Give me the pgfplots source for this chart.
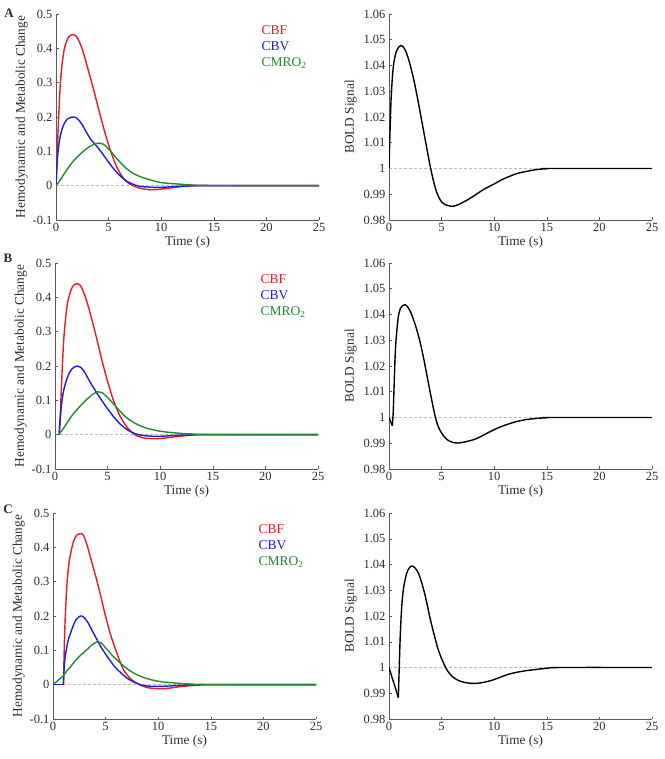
\documentclass[border=0pt]{standalone}
\usepackage{fontspec}
\setmainfont{Liberation Serif}
\usepackage{pgfplots}
\pgfplotsset{compat=1.18}
\definecolor{mred}{RGB}{228,28,36}
\definecolor{mblue}{RGB}{28,28,228}
\definecolor{mgreen}{RGB}{32,140,44}
\definecolor{axgray}{RGB}{90,90,90}
\definecolor{txtgray}{RGB}{45,45,45}
\pgfplotsset{
  base/.style={
    scale only axis, width=263pt, height=206pt, anchor=south west,
    axis x line=bottom, axis y line=left,
    axis line style={-, axgray, line width=0.6pt},
    tick align=inside, major tick length=2.5pt,
    tick style={axgray, line width=0.5pt},
    xmin=0, xmax=25, xtick={0,5,10,15,20,25},
    font=\fontsize{12.5}{14}\selectfont,
    tick label style={font=\fontsize{12.5}{14}\selectfont, text=txtgray},
    label style={font=\fontsize{13.3}{15}\selectfont, text=txtgray},
    /pgf/number format/assume math mode=true,
    xlabel={Time (s)},
    xlabel style={yshift=3pt},
  },
  leftax/.style={base,
    ymin=-0.1, ymax=0.5, ytick={-0.1,0,0.1,0.2,0.3,0.4,0.5},
    ylabel={Hemodynamic and Metabolic Change},
    ylabel style={yshift=-2pt},
    legend image code/.code={},
    legend cell align=left,
    legend style={draw=none, fill=none, at={(axis description cs:0.762,0.962)}, anchor=north west,
      font=\fontsize{13.5}{15}\selectfont, row sep=1.2pt},
  },
  rightax/.style={base,
    ymin=0.98, ymax=1.06, ytick={0.98,0.99,1,1.01,1.02,1.03,1.04,1.05,1.06},
    yticklabel style={/pgf/number format/fixed, /pgf/number format/precision=2},
    ylabel={BOLD Signal},
  },
  zline/.style={gray!55, densely dashed, line width=0.4pt},
  cv/.style={line width=1.4pt},
  sm/.style={line width=1.4pt, smooth, tension=0.55},
}
\begin{document}
\begin{tikzpicture}
\path[use as bounding box] (0pt,0pt) rectangle (664pt,759pt);
% ---------------- Row A ----------------
\begin{axis}[leftax, at={(56pt,539pt)}]
\addplot[zline, forget plot] coordinates {(0,0) (25,0)};
\addplot[sm, mred] coordinates {
(0,0) (0.1,0.08) (0.2,0.16) (0.3,0.23) (0.4,0.29) (0.5,0.33) (0.6,0.36) (0.8,0.40) (1.0,0.42) (1.2,0.433) (1.45,0.439) (1.65,0.44) (1.9,0.436) (2.2,0.421) (2.5,0.397) (2.8,0.366) (3.1,0.333) (3.4,0.30) (3.7,0.265) (4.0,0.229) (4.3,0.194) (4.6,0.16) (4.9,0.129) (5.2,0.10) (5.5,0.075) (5.8,0.053) (6.2,0.031) (6.6,0.015) (7.0,0.005) (7.3,0.0) (7.8,-0.006) (8.4,-0.010) (9.0,-0.012) (9.7,-0.011) (10.5,-0.008) (11.3,-0.005) (12.2,-0.002) (13.2,-0.0005) (14.5,0) (25,0)};
\addlegendentry[text=mred]{CBF}
\addplot[sm, mblue] coordinates {
(0,0) (0.1,0.06) (0.2,0.10) (0.35,0.135) (0.55,0.162) (0.8,0.182) (1.1,0.194) (1.4,0.199) (1.65,0.2) (1.9,0.198) (2.2,0.19) (2.5,0.177) (2.9,0.155) (3.3,0.135) (3.87,0.115) (4.3,0.098) (4.8,0.077) (5.3,0.056) (5.8,0.038) (6.3,0.023) (6.8,0.012) (7.4,0.003) (8.0,-0.002) (8.7,-0.004) (9.5,-0.005) (10.5,-0.004) (11.5,-0.002) (12.5,-0.001) (14,0) (25,0)};
\addlegendentry[text=mblue]{CBV}
\addplot[sm, mgreen] coordinates {
(0,0) (0.3,0.012) (0.6,0.026) (1.0,0.045) (1.5,0.066) (2.0,0.083) (2.6,0.1) (3.1,0.112) (3.6,0.12) (4.1,0.124) (4.5,0.121) (5.1,0.104) (5.6,0.085) (6.2,0.065) (6.7,0.05) (7.5,0.033) (8.6,0.02) (10,0.009) (11.5,0.005) (13,0.002) (15,0.0005) (25,0)};
\addlegendentry[text=mgreen]{CMRO\textsubscript{2}}
\end{axis}
\begin{axis}[rightax, at={(389pt,539pt)}]
\addplot[zline] coordinates {(0,1) (25,1)};
\addplot[sm, black] coordinates {
(0,1.0) (0.1,1.015) (0.2,1.027) (0.35,1.037) (0.5,1.042) (0.75,1.046) (1.15,1.0478) (1.5,1.0463) (1.8,1.0432) (2.1,1.0388) (2.4,1.0336) (2.7,1.0275) (3.0,1.021) (3.3,1.0143) (3.6,1.0077) (3.96,1.0) (4.3,0.994) (4.6,0.990) (5.0,0.987) (5.5,0.9857) (5.95,0.9853) (6.5,0.9858) (7.5,0.9879) (8.3,0.990) (9.1,0.9921) (10,0.994) (10.7,0.9956) (11.5,0.997) (12.3,0.9982) (13.9,0.9995) (15,0.9999) (16,1.0) (25,1.0)};
\end{axis}
% ---------------- Row B ----------------
\begin{axis}[leftax, at={(55pt,290pt)}]
\addplot[zline, forget plot] coordinates {(0,0) (25,0)};
\addplot[cv, mred, forget plot] coordinates {(0,0) (0.4,0)};
\addplot[sm, mred] coordinates {
(0.4,0) (0.5,0.06) (0.6,0.13) (0.7,0.2) (0.8,0.26) (0.9,0.305) (1.05,0.35) (1.2,0.385) (1.4,0.41) (1.65,0.43) (1.9,0.438) (2.13,0.44) (2.4,0.435) (2.65,0.42) (2.9,0.40) (3.2,0.37) (3.5,0.335) (3.8,0.30) (4.2,0.25) (4.6,0.20) (5.05,0.15) (5.55,0.10) (5.9,0.073) (6.25,0.05) (6.7,0.028) (7.1,0.013) (7.6,0.0) (8.2,-0.008) (8.9,-0.011) (9.6,-0.012) (10.4,-0.01) (11.2,-0.007) (12,-0.004) (13,-0.0015) (14.5,0) (25,0)};
\addlegendentry[text=mred]{CBF}
\addplot[cv, mblue, forget plot] coordinates {(0,0) (0.4,0)};
\addplot[sm, mblue] coordinates {
(0.4,0) (0.5,0.045) (0.63,0.09) (0.8,0.125) (1.05,0.155) (1.3,0.176) (1.6,0.191) (1.9,0.198) (2.13,0.2) (2.4,0.197) (2.7,0.187) (3.0,0.172) (3.3,0.155) (3.8,0.13) (4.3,0.106) (4.8,0.084) (5.3,0.063) (5.8,0.044) (6.3,0.028) (6.8,0.016) (7.3,0.007) (7.9,0.0) (8.6,-0.003) (9.5,-0.005) (10.5,-0.004) (11.5,-0.002) (13,-0.0005) (14.5,0) (25,0)};
\addlegendentry[text=mblue]{CBV}
\addplot[cv, mgreen, forget plot] coordinates {(0,0) (0.3,0)};
\addplot[sm, mgreen] coordinates {
(0.3,0) (0.5,0.006) (0.8,0.018) (1.2,0.037) (1.6,0.055) (2.1,0.073) (2.6,0.09) (3.1,0.105) (3.6,0.118) (4.1,0.125) (4.5,0.122) (5.1,0.105) (5.6,0.088) (6.2,0.068) (6.7,0.052) (7.5,0.035) (8.6,0.02) (10,0.01) (11.5,0.005) (13,0.002) (15,0.0005) (25,0)};
\addlegendentry[text=mgreen]{CMRO\textsubscript{2}}
\end{axis}
\begin{axis}[rightax, at={(389pt,290pt)}]
\addplot[zline] coordinates {(0,1) (25,1)};
\addplot[cv, black] coordinates {(0,1.0) (0.32,0.9968)};
\addplot[sm, black] coordinates {
(0.32,0.9968) (0.4,1.002) (0.45,1.008) (0.5,1.014) (0.57,1.0226) (0.65,1.029) (0.73,1.033) (0.85,1.038) (0.95,1.0405) (1.1,1.0425) (1.3,1.0435) (1.52,1.0438) (1.8,1.0428) (2.1,1.0405) (2.4,1.0372) (2.7,1.0332) (3.0,1.0285) (3.3,1.0228) (3.6,1.0165) (3.9,1.0101) (4.15,1.005) (4.37,1.0008) (4.6,0.9974) (4.85,0.9950) (5.2,0.9928) (5.6,0.9912) (6.1,0.9903) (6.6,0.9901) (7.2,0.9905) (8.2,0.9916) (9.0,0.9932) (9.76,0.9948) (10.5,0.9962) (11.3,0.9974) (12.1,0.9984) (12.9,0.9991) (13.9,0.9996) (15,0.9999) (16,1.0) (25,1.0)};
\end{axis}
% ---------------- Row C ----------------
\begin{axis}[leftax, at={(53pt,40pt)}]
\addplot[zline, forget plot] coordinates {(0,0) (25,0)};
\addplot[cv, mred, forget plot] coordinates {(0,0) (1.0,0)};
\addplot[sm, mred] coordinates {
(1.0,0) (1.05,0.08) (1.12,0.16) (1.2,0.22) (1.3,0.28) (1.4,0.32) (1.55,0.36) (1.8,0.40) (2.05,0.425) (2.3,0.437) (2.6,0.44) (2.9,0.435) (3.3,0.40) (3.75,0.35) (4.2,0.30) (4.6,0.25) (4.95,0.205) (5.45,0.148) (6.0,0.098) (6.6,0.05) (7.0,0.03) (7.5,0.014) (8.2,0.0) (8.9,-0.008) (9.6,-0.011) (10.3,-0.012) (11.1,-0.01) (12,-0.006) (13,-0.003) (14,-0.001) (15.5,0) (25,0)};
\addlegendentry[text=mred]{CBF}
\addplot[cv, mblue, forget plot] coordinates {(0,0) (0.98,0)};
\addplot[sm, mblue] coordinates {
(0.98,0) (1.05,0.04) (1.15,0.08) (1.26,0.1) (1.45,0.13) (1.67,0.15) (1.9,0.17) (2.2,0.189) (2.6,0.2) (2.9,0.197) (3.3,0.182) (3.8,0.153) (4.2,0.13) (4.6,0.108) (5.2,0.08) (5.8,0.055) (6.4,0.036) (7.0,0.02) (7.6,0.009) (8.3,0.0) (9.0,-0.004) (10,-0.005) (11,-0.004) (12,-0.002) (13.5,-0.0005) (15,0) (25,0)};
\addlegendentry[text=mblue]{CBV}
\addplot[sm, mgreen] coordinates {
(0,0) (0.5,0.013) (0.95,0.025) (1.3,0.04) (1.6,0.05) (2.0,0.065) (2.5,0.082) (3.15,0.1) (3.6,0.113) (4.0,0.122) (4.2,0.125) (4.6,0.121) (5.2,0.1) (5.8,0.08) (6.4,0.063) (6.9,0.05) (7.6,0.035) (8.7,0.02) (10,0.01) (11.5,0.005) (13,0.002) (15,0.0005) (25,0)};
\addlegendentry[text=mgreen]{CMRO\textsubscript{2}}
\end{axis}
\begin{axis}[rightax, at={(389pt,40pt)}]
\addplot[zline] coordinates {(0,1) (25,1)};
\addplot[sm, black] coordinates {(0,1.0) (0.3,0.996) (0.6,0.9922) (0.89,0.9883)};
\addplot[sm, black] coordinates {
(0.89,0.9883) (0.95,0.997) (1.05,1.0102) (1.12,1.017) (1.2,1.023) (1.3,1.028) (1.43,1.032) (1.68,1.0366) (1.9,1.0385) (2.15,1.0394) (2.45,1.0388) (2.8,1.0366) (3.1,1.033) (3.42,1.0282) (3.65,1.024) (3.9,1.0192) (4.15,1.015) (4.37,1.0115) (4.6,1.008) (4.85,1.005) (5.1,1.0025) (5.32,1.0005) (5.6,0.9985) (5.96,0.9967) (6.4,0.9954) (6.9,0.9945) (7.5,0.994) (8.1,0.9938) (8.8,0.9941) (9.76,0.995) (10.5,0.9961) (11.3,0.9973) (12.1,0.9981) (12.9,0.9987) (13.9,0.9992) (15,0.9997) (16.5,1.0) (25,1.0)};
\end{axis}
% panel letters
\node[font=\fontsize{13}{15}\selectfont\bfseries, text=txtgray] at (9pt,746pt) {A};
\node[font=\fontsize{13}{15}\selectfont\bfseries, text=txtgray] at (8pt,501pt) {B};
\node[font=\fontsize{13}{15}\selectfont\bfseries, text=txtgray] at (8pt,250pt) {C};
\end{tikzpicture}
\end{document}
